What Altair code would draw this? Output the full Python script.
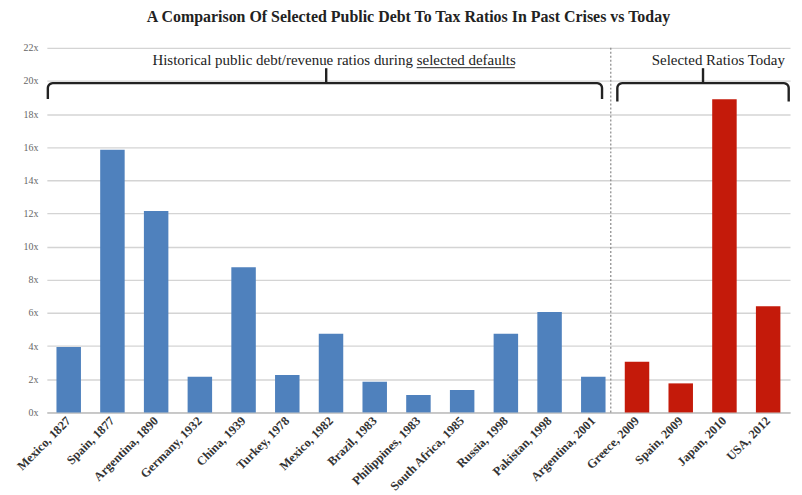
import altair as alt
import pandas as pd
import numpy as np

# ---- data ----
categories = ["Mexico, 1827", "Spain, 1877", "Argentina, 1890", "Germany, 1932",
              "China, 1939", "Turkey, 1978", "Mexico, 1982", "Brazil, 1983",
              "Philippines, 1983", "South Africa, 1985", "Russia, 1998",
              "Pakistan, 1998", "Argentina, 2001", "Greece, 2009", "Spain, 2009",
              "Japan, 2010", "USA, 2012"]
ratios = [3.95, 15.85, 12.15, 2.15, 8.75, 2.25, 4.75, 1.85, 1.05, 1.35,
          4.75, 6.05, 2.15, 3.05, 1.75, 18.9, 6.4]
groups = ["Historical"] * 13 + ["Today"] * 4
y_ticks = [0, 2, 4, 6, 8, 10, 12, 14, 16, 18, 20, 22]

title_text = "A Comparison Of Selected Public Debt To Tax Ratios In Past Crises vs Today"
left_label_a = "Historical public debt/revenue ratios during"
left_label_b = "selected defaults"
right_label = "Selected Ratios Today"

SERIF = "Liberation Serif"
W, H = 746, 366
n = len(categories)
step = W / n

df = pd.DataFrame({"category": categories, "ratio": ratios, "group": groups})

bars = alt.Chart(df).mark_bar().encode(
    x=alt.X("category:N", sort=categories, title=None,
            scale=alt.Scale(paddingInner=0.44, paddingOuter=0.22),
            axis=alt.Axis(labelAngle=-45, labelAlign="right", labelBaseline="middle",
                          labelFont=SERIF, labelFontSize=12.5, labelFontWeight="bold",
                          labelColor="#333333", labelPadding=6, ticks=False,
                          domainColor="#bfbfbf", domainWidth=1.5, grid=False)),
    y=alt.Y("ratio:Q", title=None,
            scale=alt.Scale(domain=[0, 22], nice=False),
            axis=alt.Axis(values=y_ticks, labelExpr="datum.value + 'x'",
                          labelFont=SERIF, labelFontSize=10, labelColor="#666666",
                          ticks=False, domain=False, labelPadding=9, minExtent=39,
                          gridColor="#d4d4d4", gridWidth=1.3)),
    color=alt.Color("group:N", legend=None,
                    scale=alt.Scale(domain=["Historical", "Today"],
                                    range=["#4F81BD", "#C41A0A"])),
)

# ---- bracket annotations (pixel geometry in plot space) ----
y_h, y_notch, r = 35.5, 20.5, 5.0


def bracket(x0, x1, xn, y_end, seg):
    pts = [(x0, y_end)]
    for a in np.linspace(np.pi, np.pi / 2, 7):
        pts.append((x0 + r + r * np.cos(a), y_h + r - r * np.sin(a)))
    for a in np.linspace(np.pi / 2, 0, 7):
        pts.append((x1 - r + r * np.cos(a), y_h + r - r * np.sin(a)))
    pts.append((x1, y_end))
    rows = [{"x": p[0], "y": p[1], "i": k, "seg": seg} for k, p in enumerate(pts)]
    rows += [{"x": xn, "y": y_h, "i": 0, "seg": seg + "_n"},
             {"x": xn, "y": y_notch, "i": 1, "seg": seg + "_n"}]
    return rows


br = pd.DataFrame(bracket(0.0 * step + 1, 12.70 * step, 6.39 * step, 51.5, "L")
                  + bracket(13.05 * step, 16.97 * step, 15.01 * step, 54.0, "R"))

brackets = alt.Chart(br).mark_line(color="#222222", strokeWidth=2.4).encode(
    x=alt.X("x:Q", scale=None, axis=None),
    y=alt.Y("y:Q", scale=None, axis=None),
    order="i:Q",
    detail="seg:N",
)

sep = alt.Chart(pd.DataFrame({"a": [0]})).mark_rule(
    color="#888888", strokeDash=[2, 2], strokeWidth=1.2).encode(
    x=alt.value(12.90 * step), y=alt.value(0), y2=alt.value(H))

split_x = 8.46 * step
text_y = 17.5
txt_a = alt.Chart(pd.DataFrame({"t": [left_label_a]})).mark_text(
    font=SERIF, fontSize=15, color="#222222", align="right", baseline="alphabetic").encode(
    x=alt.value(split_x - 3.8), y=alt.value(text_y), text="t:N")
txt_b = alt.Chart(pd.DataFrame({"t": [left_label_b]})).mark_text(
    font=SERIF, fontSize=15, color="#222222", align="left", baseline="alphabetic").encode(
    x=alt.value(split_x), y=alt.value(text_y), text="t:N")
underline = alt.Chart(pd.DataFrame({"a": [0]})).mark_rule(
    color="#222222", strokeWidth=1).encode(
    x=alt.value(split_x), x2=alt.value(split_x + 98.5), y=alt.value(text_y + 2.5))
txt_r = alt.Chart(pd.DataFrame({"t": [right_label]})).mark_text(
    font=SERIF, fontSize=15, color="#222222", align="center", baseline="alphabetic").encode(
    x=alt.value(15.36 * step), y=alt.value(text_y), text="t:N")

chart = alt.layer(bars, sep, brackets, txt_a, txt_b, underline, txt_r).properties(
    width=W, height=H,
    padding={"left": 0, "top": 0, "right": 0, "bottom": 0},
    title=alt.TitleParams(title_text, font=SERIF, fontSize=16, fontWeight="bold",
                          color="#222222", anchor="middle", dx=-10, dy=3, offset=21),
).configure_view(stroke=None)

chart.save("out.html", embed_options={"renderer": "svg", "actions": False})
